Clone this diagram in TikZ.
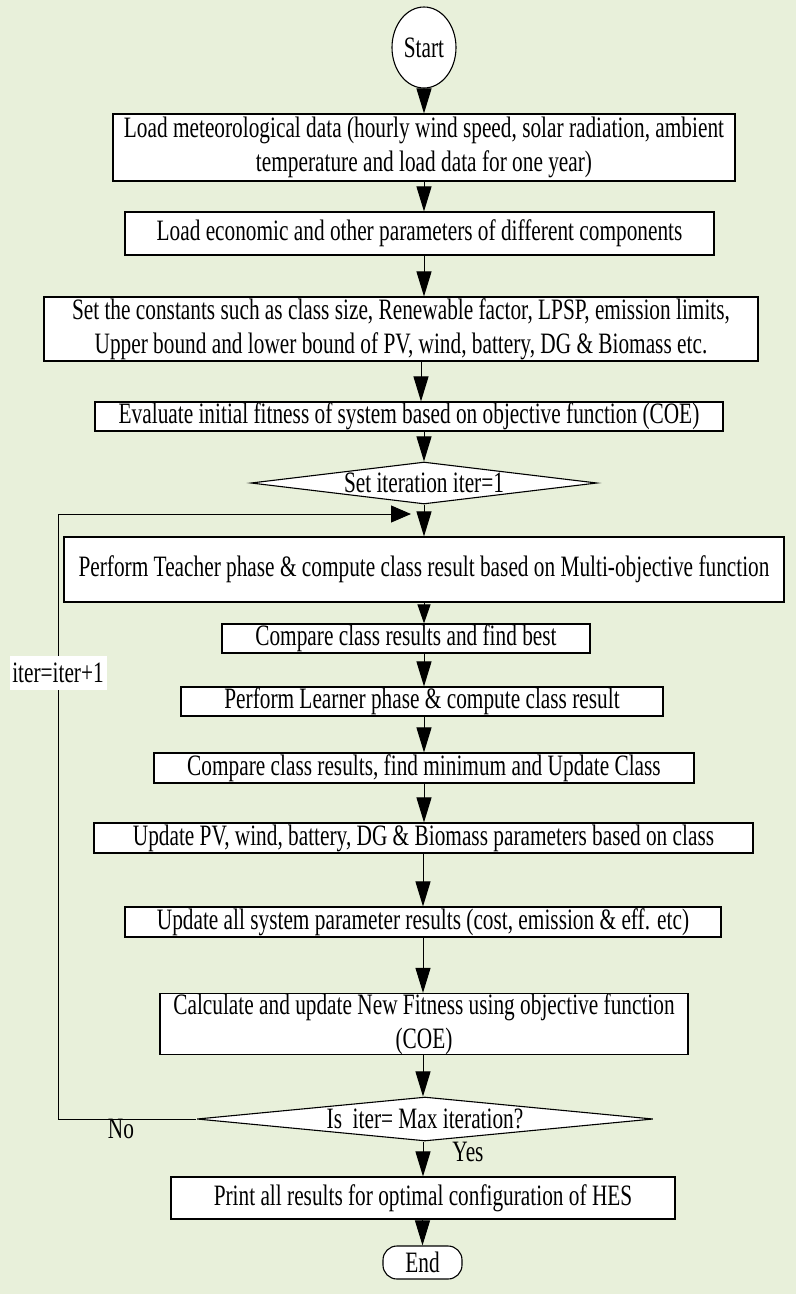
\documentclass[tikz,border=0pt]{standalone}
\usepackage{fontspec}
\setmainfont{Liberation Serif}[FakeStretch=0.72]
\usetikzlibrary{arrows.meta,shapes.geometric}
\definecolor{bgc}{HTML}{E8F0DA}
\newcommand{\mainsize}{\fontsize{29.6}{34}\selectfont}
\begin{document}
\begin{tikzpicture}[x=1pt,y=-1pt,
  box/.style={draw=black,fill=white,line width=1.1pt,inner sep=0pt,align=center,font=\mainsize},
  arr/.style={line width=1pt,-{Triangle[width=15pt,length=25pt]}},
  sarr/.style={line width=1pt,-{Triangle[width=13pt,length=19pt]}},
  harr/.style={line width=1pt,-{Triangle[width=17pt,length=20pt]}},
  lbl/.style={inner sep=0pt,font=\mainsize}]
\fill[bgc] (0,0) rectangle (796,1294);
\useasboundingbox (0,0) rectangle (796,1294);
\coordinate (ax) at (424,0);
\coordinate (axb) at (421,0);
\coordinate (axc) at (423,0);

\node[box,ellipse,minimum width=64pt,minimum height=81pt] (start) at (424,47.5) {Start};
\node[box,minimum width=622pt,minimum height=67pt] (b1) at (424,147.5) {Load meteorological data (hourly wind speed, solar radiation, ambient\\temperature and load data for one year)};
\node[box,minimum width=589pt,minimum height=43pt] (b2) at (419.5,233.5) {Load economic and other parameters of different components};
\node[box,minimum width=714pt,minimum height=64pt] (b3) at (401,329) {Set the constants such as class size, Renewable factor, LPSP, emission limits,\\Upper bound and lower bound of PV, wind, battery, DG \& Biomass etc.};
\node[box,minimum width=628pt,minimum height=29pt] (b4) at (409,416.5) {Evaluate initial fitness of system based on objective function (COE)};
\node[box,diamond,aspect=8.24,minimum width=346pt,minimum height=42pt] (d1) at (424,483) {Set iteration iter=1};
\node[box,minimum width=720pt,minimum height=65pt] (b5) at (424,569.5) {Perform Teacher phase \& compute class result based on Multi-objective function};
\node[box,minimum width=368pt,minimum height=29pt] (b6) at (406,638.5) {Compare class results and find best};
\node[box,minimum width=482pt,minimum height=29pt] (b7) at (422,701.5) {Perform Learner phase \& compute class result};
\node[box,minimum width=540pt,minimum height=30pt] (b8) at (424,768) {Compare class results, find minimum and Update Class};
\node[box,minimum width=659pt,minimum height=30pt] (b9) at (423.5,838) {Update PV, wind, battery, DG \& Biomass parameters based on class};
\node[box,minimum width=596pt,minimum height=30pt] (b10) at (423,922) {Update all system parameter results (cost, emission \& eff. etc)};
\node[box,minimum width=528pt,minimum height=58pt] (b11) at (424,1024) {Calculate and update New Fitness using objective function\\(COE)};
\node[box,diamond,aspect=10.4,minimum width=456pt,minimum height=44pt] (d2) at (425,1119) {Is~ iter= Max iteration?};
\node[box,minimum width=504pt,minimum height=42pt] (b12) at (423,1198) {Print all results for optimal configuration of HES};
\node[box,rounded corners=14pt,minimum width=79pt,minimum height=33pt] (end) at (422.5,1262.5) {End};

\draw[arr] (start.south) -- (b1.north);
\draw[arr] (b1.south) -- (b1.south |- b2.north);
\draw[arr] (b2.south -| ax) -- (b3.north -| ax);
\draw[arr] (b3.south -| axb) -- (b4.north -| axb);
\draw[arr] (b4.south -| ax) -- (d1.north);
\draw[arr] (d1.south) -- (b5.north);
\draw[sarr] (b5.south) -- (b6.north -| ax);
\draw[arr] (b6.south -| ax) -- (b7.north -| ax);
\draw[arr] (b7.south -| ax) -- (b8.north -| ax);
\draw[arr] (b8.south -| ax) -- (b9.north -| ax);
\draw[arr] (b9.south -| axc) -- (b10.north -| axc);
\draw[arr] (b10.south -| axc) -- (b11.north -| axc);
\draw[arr] (b11.south -| axc) -- (d2.north -| axc);
\draw[arr] (d2.south -| axc) -- (b12.north -| axc);
\draw[arr] (b12.south -| end) -- (end.north);

\coordinate (lc) at (58,514);
\coordinate (li) at (411,514);
\draw[harr] (d2.west) -- (d2.west -| lc) -- (lc) -- (li);
\node[lbl,fill=white,minimum width=97pt,minimum height=34pt] (inc) at (58,673) {iter=iter+1};
\node[lbl] (no) at (121,1129) {No};
\node[lbl] (yes) at (468,1152) {Yes};
\end{tikzpicture}
\end{document}
